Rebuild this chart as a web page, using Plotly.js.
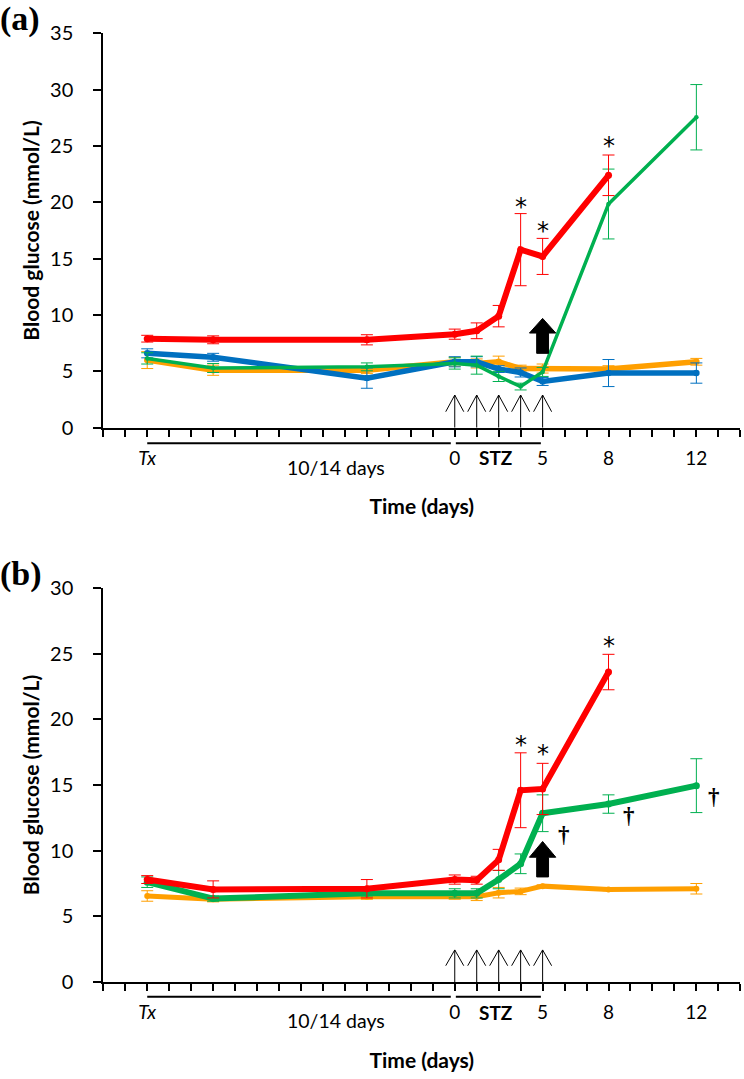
<!DOCTYPE html>
<html><head><meta charset="utf-8">
<script src="https://cdn.plot.ly/plotly-3.0.1.min.js"></script>
<style>html,body{margin:0;padding:0;background:#fff}</style>
</head><body><div id="chart" style="width:744px;height:1079px"></div>
<script>
// ---------- data ----------
const xIdx = [2, 5, 12, 16, 17, 18, 19, 20, 23, 27];   // positions on the ordinal time axis
const tickVals = [2, 16, 20, 23, 27];
const tickText = ['<i>Tx</i>', '0', '5', '8', '12'];
const stzIdx = [16, 17, 18, 19, 20];

// panel (a)
const redA      = [7.9, 7.8, 7.8, 8.3, 8.6, 9.9, 15.8, 15.2, 22.4, null];
const redAErr   = [0.3, 0.35, 0.45, 0.45, 0.7, 0.95, 3.2, 1.6, 1.8, null];
const greenA    = [6.15, 5.3, 5.4, 5.7, 5.55, 4.55, 3.65, 4.95, 19.85, 27.55];
const greenAErr = [0.5, 0.4, 0.35, 0.5, 0.8, 0.45, 0.3, 0.4, 3.1, 2.9];
const blueA     = [6.6, 6.25, 4.4, 5.85, 5.85, 5.2, 4.9, 4.1, 4.85, 4.85];
const blueAErr  = [0.4, 0.35, 0.9, 0.45, 0.45, 0.3, 0.4, 0.35, 1.2, 0.9];
const orangeA   = [6.0, 5.1, 5.1, 5.85, 5.7, 5.85, 5.25, 5.25, 5.2, 5.85];
const orangeAErr= [0.75, 0.45, 0.3, 0.4, 0.4, 0.5, 0.3, 0.4, 0.3, 0.3];

// panel (b)
const redB      = [7.8, 7.05, 7.1, 7.8, 7.75, 9.3, 14.6, 14.7, 23.6, null];
const redBErr   = [0.3, 0.65, 0.7, 0.35, 0.3, 0.8, 2.85, 1.95, 1.35, null];
const greenB    = [7.6, 6.35, 6.75, 6.75, 6.75, 7.8, 9.0, 12.85, 13.55, 14.95];
const greenBErr = [0.4, 0.2, 0.2, 0.35, 0.35, 0.7, 0.75, 1.4, 0.7, 2.05];
const orangeB   = [6.55, 6.3, 6.5, 6.55, 6.5, 6.8, 6.9, 7.3, 7.05, 7.1];
const orangeBErr= [0.4, 0.2, 0.2, 0.25, 0.3, 0.4, 0.25, 0.1, 0.1, 0.4];

// ---------- style ----------
const RED = '#FF0000', GREEN = '#00B050', BLUE = '#0070C0', ORANGE = '#FF9F00';
const FONT = 'Lato, "Open Sans", sans-serif';
const W = 744, H = 1079;
const xL = 103.3, xR = 740.3, XMAX = 29;
const A = {top: 33.3, bot: 427.7, ymax: 35};
const B = {top: 588, bot: 982, ymax: 30};

function tr(y, err, color, width, xa, ya) {
  return {
    x: xIdx, y: y, type: 'scatter', mode: 'lines+markers',
    xaxis: xa, yaxis: ya, showlegend: false, connectgaps: false,
    line: {color: color, width: width},
    marker: {color: color, size: width + 1},
    error_y: {type: 'data', array: err, visible: true, color: color, thickness: 1, width: 6},
    hoverinfo: 'x+y'
  };
}

const data = [
  tr(orangeA, orangeAErr, ORANGE, 5.5, 'x', 'y'),
  tr(blueA, blueAErr, BLUE, 5.5, 'x', 'y'),
  tr(greenA, greenAErr, GREEN, 3.5, 'x', 'y'),
  tr(redA, redAErr, RED, 6, 'x', 'y'),
  tr(orangeB, orangeBErr, ORANGE, 5, 'x2', 'y2'),
  tr(greenB, greenBErr, GREEN, 6, 'x2', 'y2'),
  tr(redB, redBErr, RED, 6, 'x2', 'y2')
];

function xaxis(anchor) {
  return {
    anchor: anchor, domain: [xL / W, xR / W], range: [0, XMAX],
    showgrid: false, zeroline: false, showline: true, linecolor: '#000', linewidth: 2,
    tickvals: tickVals, ticktext: tickText, ticks: 'outside', ticklen: 7, tickwidth: 2, tickcolor: '#000',
    minor: {dtick: 1, tick0: 0, ticks: 'outside', ticklen: 7, tickwidth: 2, tickcolor: '#000'},
    tickfont: {family: FONT, size: 19, color: '#000'}, ticklabelstandoff: 5,
    title: {text: 'Time (days)', font: {family: FONT, size: 21, color: '#000', weight: 'bold'}, standoff: 32},
    fixedrange: true
  };
}
function yaxis(anchor, P) {
  return {
    anchor: anchor, domain: [1 - P.bot / H, 1 - P.top / H], range: [0, P.ymax],
    showgrid: false, zeroline: false, showline: true, linecolor: '#000', linewidth: 2,
    dtick: 5, tick0: 0, ticks: 'outside', ticklen: 8, tickwidth: 2, tickcolor: '#000',
    tickfont: {family: FONT, size: 20, color: '#000'}, ticklabelstandoff: 16,
    title: {text: 'Blood glucose (mmol/L)', font: {family: FONT, size: 21, color: '#000', weight: 'bold'}, standoff: 5},
    fixedrange: true
  };
}

// ---------- decorations ----------
const shapes = [];
const annotations = [];

function decorate(xa, ya, P, arrowTop, headLen, bigArrow, underOff) {
  const yd = ya + ' domain', xd = xa + ' domain';
  const hgt = P.bot - P.top;
  // underline segments below the axis
  [[2, 15.82], [16.05, 19.92]].forEach(function (seg) {
    shapes.push({type: 'line', xref: xd, yref: yd, x0: seg[0] / XMAX, x1: seg[1] / XMAX,
      y0: -underOff / hgt, y1: -underOff / hgt, line: {color: '#000', width: 2}});
  });
  // thin STZ arrows
  stzIdx.forEach(function (i) {
    shapes.push({type: 'line', xref: xa, yref: ya, x0: i, x1: i, y0: 0, y1: arrowTop,
      line: {color: '#000', width: 1}});
    shapes.push({type: 'path', xref: xa, yref: ya,
      path: 'M' + (i - 0.41) + ',' + (arrowTop - headLen) + ' L' + i + ',' + arrowTop + ' L' + (i + 0.41) + ',' + (arrowTop - headLen),
      line: {color: '#000', width: 1}});
  });
  // thick black arrow
  const c = bigArrow.x, hw = 0.6, sw = 0.27;
  shapes.push({type: 'path', xref: xa, yref: ya, fillcolor: '#000', line: {color: '#000', width: 1},
    path: 'M' + (c - sw) + ',' + bigArrow.bottom + ' L' + (c - sw) + ',' + bigArrow.base +
          ' L' + (c - hw) + ',' + bigArrow.base + ' L' + c + ',' + bigArrow.top +
          ' L' + (c + hw) + ',' + bigArrow.base + ' L' + (c + sw) + ',' + bigArrow.base +
          ' L' + (c + sw) + ',' + bigArrow.bottom + ' Z'});
  // labels under the axis
  annotations.push({xref: xa, yref: yd, x: 10.6, y: 0, yanchor: 'middle', yshift: -(underOff + 24), text: '10/14 days',
    showarrow: false, font: {family: FONT, size: 19.5, color: '#000'}});
  annotations.push({xref: xa, yref: yd, x: 17.85, y: 0, yanchor: 'middle', yshift: -30, text: '<b>STZ</b>',
    showarrow: false, font: {family: FONT, size: 19, color: '#000'}});
}

decorate('x', 'y', A, 2.9, 1.48, {x: 20, top: 9.7, base: 8.4, bottom: 6.6}, 15.6);
decorate('x2', 'y2', B, 2.44, 1.2, {x: 20, top: 10.7, base: 9.5, bottom: 8.0}, 14.7);

// significance marks
const starA = [[19, 20.05], [20, 17.9], [23, 25.4]];
const starB = [[19, 18.43], [20, 17.72], [23, 25.97]];
const daggerB = [[20.96, 11.2], [23.94, 12.64], [27.81, 14.11]];
const STARFONT = {family: '"DejaVu Sans", sans-serif', size: 24, color: '#000'};
starA.forEach(function (p) {
  annotations.push({xref: 'x', yref: 'y', x: p[0], y: p[1], yanchor: 'middle', yshift: -5, text: '*', showarrow: false, font: STARFONT});
});
starB.forEach(function (p) {
  annotations.push({xref: 'x2', yref: 'y2', x: p[0], y: p[1], yanchor: 'middle', yshift: -5, text: '*', showarrow: false, font: STARFONT});
});
daggerB.forEach(function (p) {
  annotations.push({xref: 'x2', yref: 'y2', x: p[0], y: p[1], yanchor: 'middle', text: '<b>†</b>', showarrow: false,
    font: {family: '"Liberation Serif", serif', size: 23, color: '#000'}});
});
// panel letters
annotations.push({xref: 'paper', yref: 'paper', x: 0, y: 1 - 19 / H, xanchor: 'left', yanchor: 'middle', xshift: -2,
  text: '<b>(a)</b>', showarrow: false, font: {family: '"Liberation Serif", serif', size: 34, color: '#000'}});
annotations.push({xref: 'paper', yref: 'paper', x: 0, y: 1 - 574 / H, xanchor: 'left', yanchor: 'middle', xshift: -2,
  text: '<b>(b)</b>', showarrow: false, font: {family: '"Liberation Serif", serif', size: 34, color: '#000'}});

const layout = {
  width: W, height: H, margin: {l: 0, r: 0, t: 0, b: 0},
  paper_bgcolor: '#fff', plot_bgcolor: '#fff', showlegend: false,
  xaxis: xaxis('y'), yaxis: yaxis('x', A),
  xaxis2: xaxis('y2'), yaxis2: yaxis('x2', B),
  shapes: shapes, annotations: annotations
};

Plotly.newPlot('chart', data, layout, {displayModeBar: false, staticPlot: true});
</script></body></html>
